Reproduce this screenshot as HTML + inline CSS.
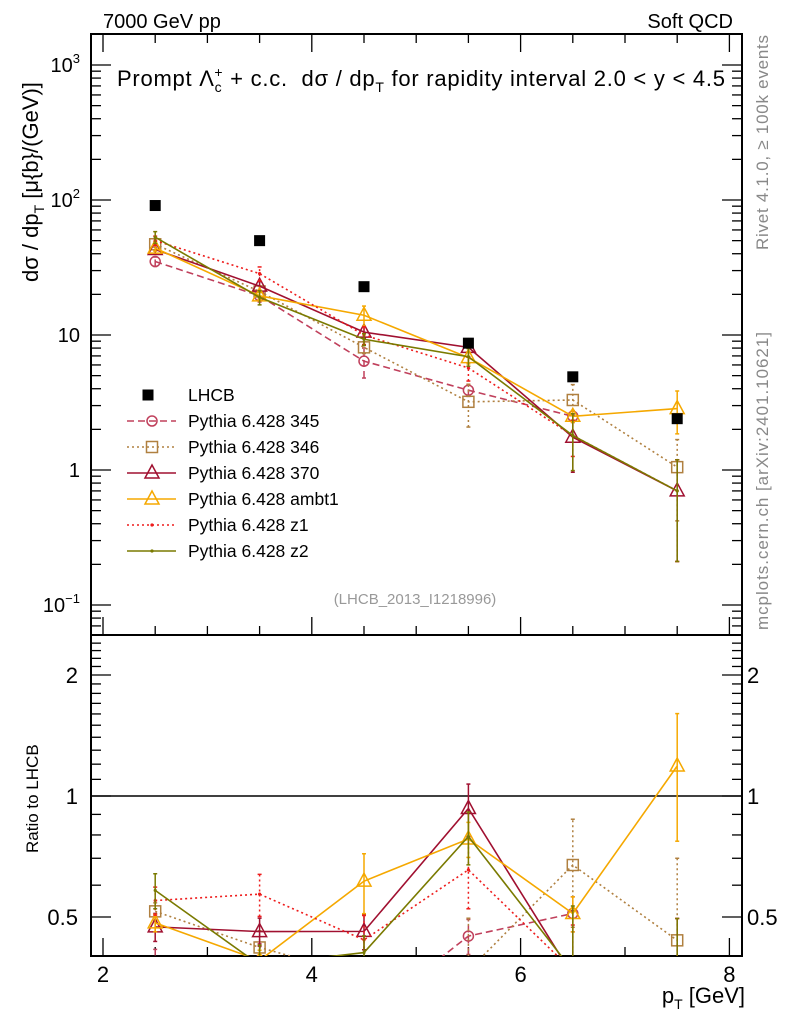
<!DOCTYPE html>
<html><head><meta charset="utf-8"><style>
html,body{margin:0;padding:0;background:#fff;overflow:hidden;width:786px;height:1024px}
svg{display:block;font-family:"Liberation Sans",sans-serif}
</style></head><body>
<svg id="chart" width="786" height="1024" viewBox="0 0 786 1024">
<g id="frame"></g>
<g id="marks"></g>
<g id="labels">
<text x="103" y="28" font-size="20">7000 GeV pp</text>
<text x="733" y="28" font-size="20" text-anchor="end">Soft QCD</text>
<text x="117" y="86" font-size="22" xml:space="preserve" textLength="608">Prompt Λ<tspan font-size="14" dy="6">c</tspan><tspan font-size="14" dx="-8" dy="-15">+</tspan><tspan dy="9"> + c.c.  dσ / dp</tspan><tspan font-size="14" dy="6">T</tspan><tspan dy="-6"> for rapidity interval 2.0 &lt; y &lt; 4.5</tspan></text>
<text transform="translate(38,282) rotate(-90)" font-size="22">dσ / dp<tspan font-size="14" dy="6">T</tspan><tspan dy="-6"> [μ{b}/(GeV)]</tspan></text>
<text transform="translate(38,853) rotate(-90)" font-size="17">Ratio to LHCB</text>
<text transform="translate(768,250) rotate(-90)" font-size="17" fill="#888" textLength="215">Rivet 4.1.0, ≥ 100k events</text>
<text transform="translate(768,630) rotate(-90)" font-size="17" fill="#888" textLength="298">mcplots.cern.ch [arXiv:2401.10621]</text>
<text x="415" y="604" font-size="15" fill="#999" text-anchor="middle">(LHCB_2013_I1218996)</text>
<text x="745" y="1003" font-size="22" text-anchor="end">p<tspan font-size="14" dy="6">T</tspan><tspan dy="-6"> [GeV]</tspan></text>
</g>
<g id="legend"></g>
</svg>
<script>
const categories = [2.5, 3.5, 4.5, 5.5, 6.5, 7.5];
const lhcb = [91, 50, 22.8, 8.7, 4.9, 2.4];
const p345 = [35, 19.5, 6.4, 3.9, 2.5, null];
const p346 = [47, 21, 8.1, 3.2, 3.3, 1.05];
const p370 = [43, 23, 10.5, 8.1, 1.75, 0.7];
const pambt1 = [44, 19.5, 14.0, 6.8, 2.5, 2.85];
const pz1 = [50, 28.5, 10, 5.7, 1.8, 0.7];
const pz2 = [53, 19, 9.3, 6.9, 1.8, 0.7];
const err345 = [0.08, 0.1, 0.25, 0.1, 0.1, 0];
const err346 = [0.05, 0.1, 0.1, 0.35, 0.3, 0.6];
const err370 = [0.08, 0.08, 0.1, 0.15, 0.45, 0.7];
const errambt1 = [0.05, 0.06, 0.17, 0.1, 0.1, 0.35];
const errz1 = [0.08, 0.12, 0.15, 0.2, 0.3, 0.7];
const errz2 = [0.1, 0.12, 0.1, 0.15, 0.45, 0.7];
const mainTickLabels = ["10^3", "10^2", "10", "1", "10^-1"];
const ratioTickLabels = ["2", "1", "0.5"];
const xTickLabels = ["2", "4", "6", "8"];

const NS = "http://www.w3.org/2000/svg";
const L = 91, R = 742, T = 34, MB = 635, RB = 956;
const xMin = 2 - 12/104.4, xMax = 2 + (R - 103)/104.4;
function xs(v){ return L + (v - xMin) / (xMax - xMin) * (R - L); }
const yTopLog = Math.log10(1000) + (65 - T)/135, yBotLog = Math.log10(1000) - (MB - 65)/135;
function ys(v){ return T + (yTopLog - Math.log10(v)) / (yTopLog - yBotLog) * (MB - T); }
const rPer = 402;
function yr(v){ return 796 - Math.log10(v) * rPer; }
function el(tag, attrs, parent){ const e = document.createElementNS(NS, tag); for (const k in attrs) e.setAttribute(k, attrs[k]); parent.appendChild(e); return e; }

const frame = document.getElementById('frame');
const marks = document.getElementById('marks');
const legend = document.getElementById('legend');

let f1 = el('rect', {x:L, y:T, width:R-L, height:MB-T, fill:'none', stroke:'#000', 'stroke-width':2}, frame);


let f2 = el('rect', {x:L, y:MB, width:R-L, height:RB-MB, fill:'none', stroke:'#000', 'stroke-width':2}, frame);



for (let v = 2; v <= 8.001; v += 0.5) {
  const major = Math.abs(v - Math.round(v/2)*2) < 1e-6;
  const len = major ? 18 : 9;
  const X = xs(v);
  el('line', {x1:X, x2:X, y1:T, y2:T+len, stroke:'#000', 'stroke-width':1.3}, frame);
  el('line', {x1:X, x2:X, y1:MB, y2:MB-len, stroke:'#000', 'stroke-width':1.3}, frame);
  el('line', {x1:X, x2:X, y1:RB, y2:RB-len, stroke:'#000', 'stroke-width':1.3}, frame);
}
xTickLabels.forEach(function(t){
  const tx = el('text', {x:xs(+t), y:982, 'font-size':22, 'text-anchor':'middle'}, frame);
  tx.textContent = t;
  
  
});

for (let d = -2; d <= 3; d++) {
  for (let m = 1; m <= 9; m++) {
    const v = m * Math.pow(10, d);
    const Y = ys(v);
    if (Y < T || Y > MB) continue;
    const len = m === 1 ? 20 : 10;
    el('line', {x1:L, x2:L+len, y1:Y, y2:Y, stroke:'#000', 'stroke-width':1.3}, frame);
    el('line', {x1:R, x2:R-len, y1:Y, y2:Y, stroke:'#000', 'stroke-width':1.3}, frame);
  }
}
const mainTickVals = [1000, 100, 10, 1, 0.1];
mainTickLabels.forEach(function(t, i){
  const Y = ys(mainTickVals[i]) + 7;
  const tx = el('text', {x:80, y:Y, 'font-size':20, 'text-anchor':'end'}, frame);
  
  
  if (t.indexOf('^') >= 0) {
    const p = t.split('^');
    tx.textContent = p[0];
    const s = el('tspan', {'font-size':13, dy:-9}, tx);
    s.textContent = p[1].replace('-', '−');
  } else tx.textContent = t;
});

for (let v = 0.4; v <= 2.5; v += 0.1) {
  const Y = yr(v);
  if (Y < MB || Y > RB) continue;
  const isMajor = Math.abs(v-1)<1e-6 || Math.abs(v-2)<1e-6 || Math.abs(v-0.5)<1e-6;
  const len = isMajor ? 20 : 10;
  el('line', {x1:L, x2:L+len, y1:Y, y2:Y, stroke:'#000', 'stroke-width':1.3}, frame);
  el('line', {x1:R, x2:R-len, y1:Y, y2:Y, stroke:'#000', 'stroke-width':1.3}, frame);
}
const ratioTickVals = [2, 1, 0.5];
ratioTickLabels.forEach(function(t, i){
  const Y = yr(ratioTickVals[i]) + 8;
  const a = el('text', {x:78, y:Y, 'font-size':22, 'text-anchor':'end'}, frame);
  a.textContent = t;
  
  
  const b = el('text', {x:747, y:Y, 'font-size':22}, frame);
  b.textContent = t;
  
  
});
const oneLine = el('line', {x1:L, x2:R, y1:yr(1), y2:yr(1), stroke:'#000', 'stroke-width':1.5}, frame);



const defs = el('defs', {}, document.getElementById('chart'));
const c1 = el('clipPath', {id:'cm'}, defs); el('rect', {x:L, y:T, width:R-L, height:MB-T}, c1);
const c2 = el('clipPath', {id:'cr'}, defs); el('rect', {x:L, y:MB, width:R-L, height:RB-MB}, c2);

const series = [
  {name:'Pythia 6.428 345', vals:p345, err:err345, color:'#c0405c', dash:'7,4', marker:'circle'},
  {name:'Pythia 6.428 346', vals:p346, err:err346, color:'#b08040', dash:'2,3', marker:'square'},
  {name:'Pythia 6.428 370', vals:p370, err:err370, color:'#a01030', dash:'', marker:'triangle'},
  {name:'Pythia 6.428 ambt1', vals:pambt1, err:errambt1, color:'#f5a800', dash:'', marker:'triangle'},
  {name:'Pythia 6.428 z1', vals:pz1, err:errz1, color:'#ee1c1c', dash:'2,3', marker:'dot'},
  {name:'Pythia 6.428 z2', vals:pz2, err:errz2, color:'#7a7a00', dash:'', marker:'dot'}
];

function drawMarker(g, type, X, Y, color){
  if (type === 'circle') el('circle', {cx:X, cy:Y, r:5, fill:'none', stroke:color, 'stroke-width':1.5}, g);
  else if (type === 'square') el('rect', {x:X-5.5, y:Y-5.5, width:11, height:11, fill:'none', stroke:color, 'stroke-width':1.5}, g);
  else if (type === 'triangle') el('polygon', {points:(X-7)+','+(Y+5)+' '+(X+7)+','+(Y+5)+' '+X+','+(Y-8), fill:'none', stroke:color, 'stroke-width':1.5}, g);
  else el('circle', {cx:X, cy:Y, r:1.6, fill:color}, g);
}

function drawSeries(s, panel){
  const g = el('g', {'clip-path': panel === 'main' ? 'url(#cm)' : 'url(#cr)'}, marks);
  
  
  const pts = [];
  categories.forEach(function(c, i){
    const v = s.vals[i];
    if (v == null) return;
    const val = panel === 'main' ? v : v / lhcb[i];
    const yf = panel === 'main' ? ys : yr;
    const X = xs(c), Y = yf(val);
    pts.push([X, Y]);
    const e = s.err[i];
    if (e > 0) {
      const lo = yf(Math.max(val*(1-e), 1e-4)), hi = yf(val*(1+e));
      el('line', {x1:X, x2:X, y1:lo, y2:hi, stroke:s.color, 'stroke-width':1.5, 'stroke-dasharray':s.dash}, g);
      el('line', {x1:X-2, x2:X+2, y1:lo, y2:lo, stroke:s.color, 'stroke-width':1.5}, g);
      el('line', {x1:X-2, x2:X+2, y1:hi, y2:hi, stroke:s.color, 'stroke-width':1.5}, g);
    }
  });
  el('polyline', {points:pts.map(function(p){return p.join(',');}).join(' '), fill:'none', stroke:s.color, 'stroke-width':1.6, 'stroke-dasharray':s.dash}, g);
  pts.forEach(function(p){ drawMarker(g, s.marker, p[0], p[1], s.color); });
}
series.forEach(function(s){ drawSeries(s, 'main'); drawSeries(s, 'ratio'); });

const dg = el('g', {'clip-path':'url(#cm)'}, marks);


categories.forEach(function(c, i){
  el('rect', {x:xs(c)-5.5, y:ys(lhcb[i])-5.5, width:11, height:11, fill:'#000'}, dg);
});

const rowsY = [395, 421, 447, 473, 499, 525, 551];
const lhRow = el('g', {}, legend);


el('rect', {x:148-5.5, y:rowsY[0]-5.5, width:11, height:11, fill:'#000'}, lhRow);
const lt = el('text', {x:188, y:rowsY[0]+6, 'font-size':17.5}, lhRow); lt.textContent = 'LHCB';
series.forEach(function(s, i){
  const Y = rowsY[i+1];
  const row = el('g', {}, legend);
  
  
  el('line', {x1:127, x2:176, y1:Y, y2:Y, stroke:s.color, 'stroke-width':1.6, 'stroke-dasharray':s.dash}, row);
  drawMarker(row, s.marker, 152, Y, s.color);
  const t = el('text', {x:188, y:Y+6, 'font-size':17.5}, row); t.textContent = s.name;
});
</script>
</body></html>
